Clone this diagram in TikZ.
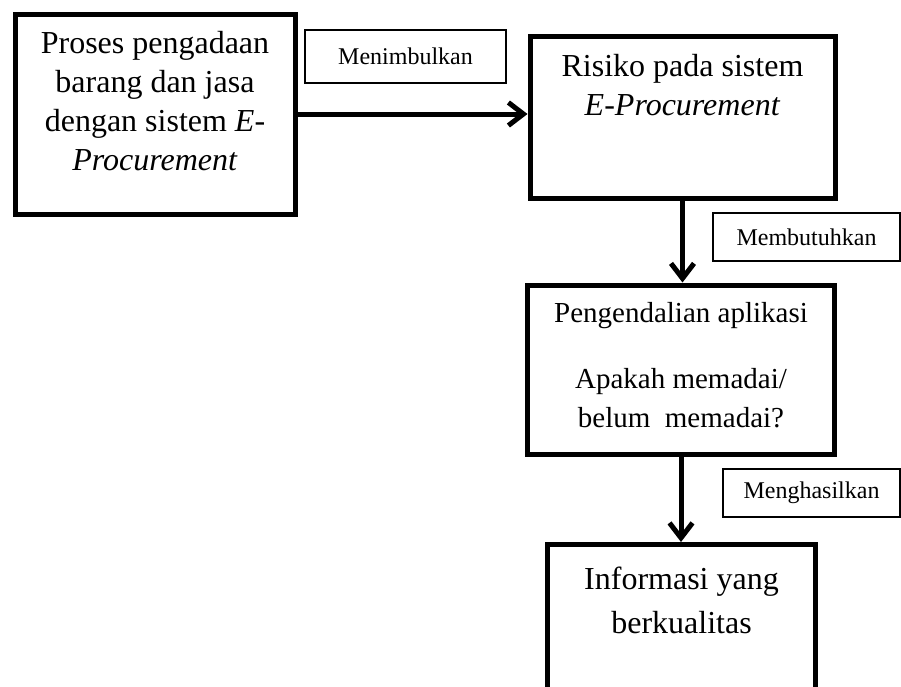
\documentclass[tikz,border=0pt]{standalone}
\usepackage{fontspec}
\setmainfont{Liberation Serif}
\usetikzlibrary{arrows.meta}

\tikzset{
	kotak/.style={draw, line width=5pt, inner sep=0pt, anchor=north west},
	ket/.style={draw, line width=1.5pt, inner sep=0pt, font=\fontsize{24}{28}\selectfont},
	panah/.style={line width=5pt, -{Straight Barb[length=15pt, width=23pt, line width=5pt]}}
}
% lebar, tinggi, jarak atas, ukuran huruf, baris, isi
\newcommand{\isikotak}[6]{\parbox[c][#2][t]{#1}{\centering\fontsize{#4}{#5}\selectfont\vspace*{#3}\strut #6}}

\begin{document}
\begin{tikzpicture}[x=1pt, y=-1pt]
		\fill[white] (0,0) rectangle (901,686);
		\useasboundingbox (0,0) rectangle (901,686);
		\clip (0,0) rectangle (901,686);
		
		% kotak
		\node[kotak] (b1) at (12.5,11.5) {\isikotak{280pt}{200pt}{12.5pt}{32}{39}{Proses pengadaan\\ barang dan jasa\\ dengan sistem \textit{E-}\\ \textit{Procurement}}};
		\node[kotak] (b2) at (527.5,34) {\isikotak{305pt}{162pt}{13pt}{32}{39}{Risiko pada sistem\\ \textit{E-Procurement}}};
		\node[kotak] (b3) at (525,282.5) {\isikotak{307pt}{169pt}{10pt}{29}{39}{Pengendalian aplikasi\\[27pt] Apakah memadai/\\ belum\ \ memadai?}};
		\node[kotak] (b4) at (545,542) {\isikotak{268pt}{147pt}{14pt}{32}{44}{Informasi yang\\ berkualitas}};
		
		% panah
		\draw[panah] (b1.east) -- (b1.east -| b2.west);
		\draw[panah] (b2.south) -- (b2.south |- b3.north);
		\draw[panah] (b3.south) -- (b3.south |- b4.north);
		
		% keterangan
		\node[ket, minimum width=201pt, minimum height=53pt] (k1) at (405.5,56.5) {Menimbulkan};
		\node[ket, minimum width=187pt, minimum height=48pt] (k2) at (806.5,237) {Membutuhkan};
		\node[ket, minimum width=177pt, minimum height=48pt] (k3) at (811.5,493) {Menghasilkan};
\end{tikzpicture}
\end{document}
